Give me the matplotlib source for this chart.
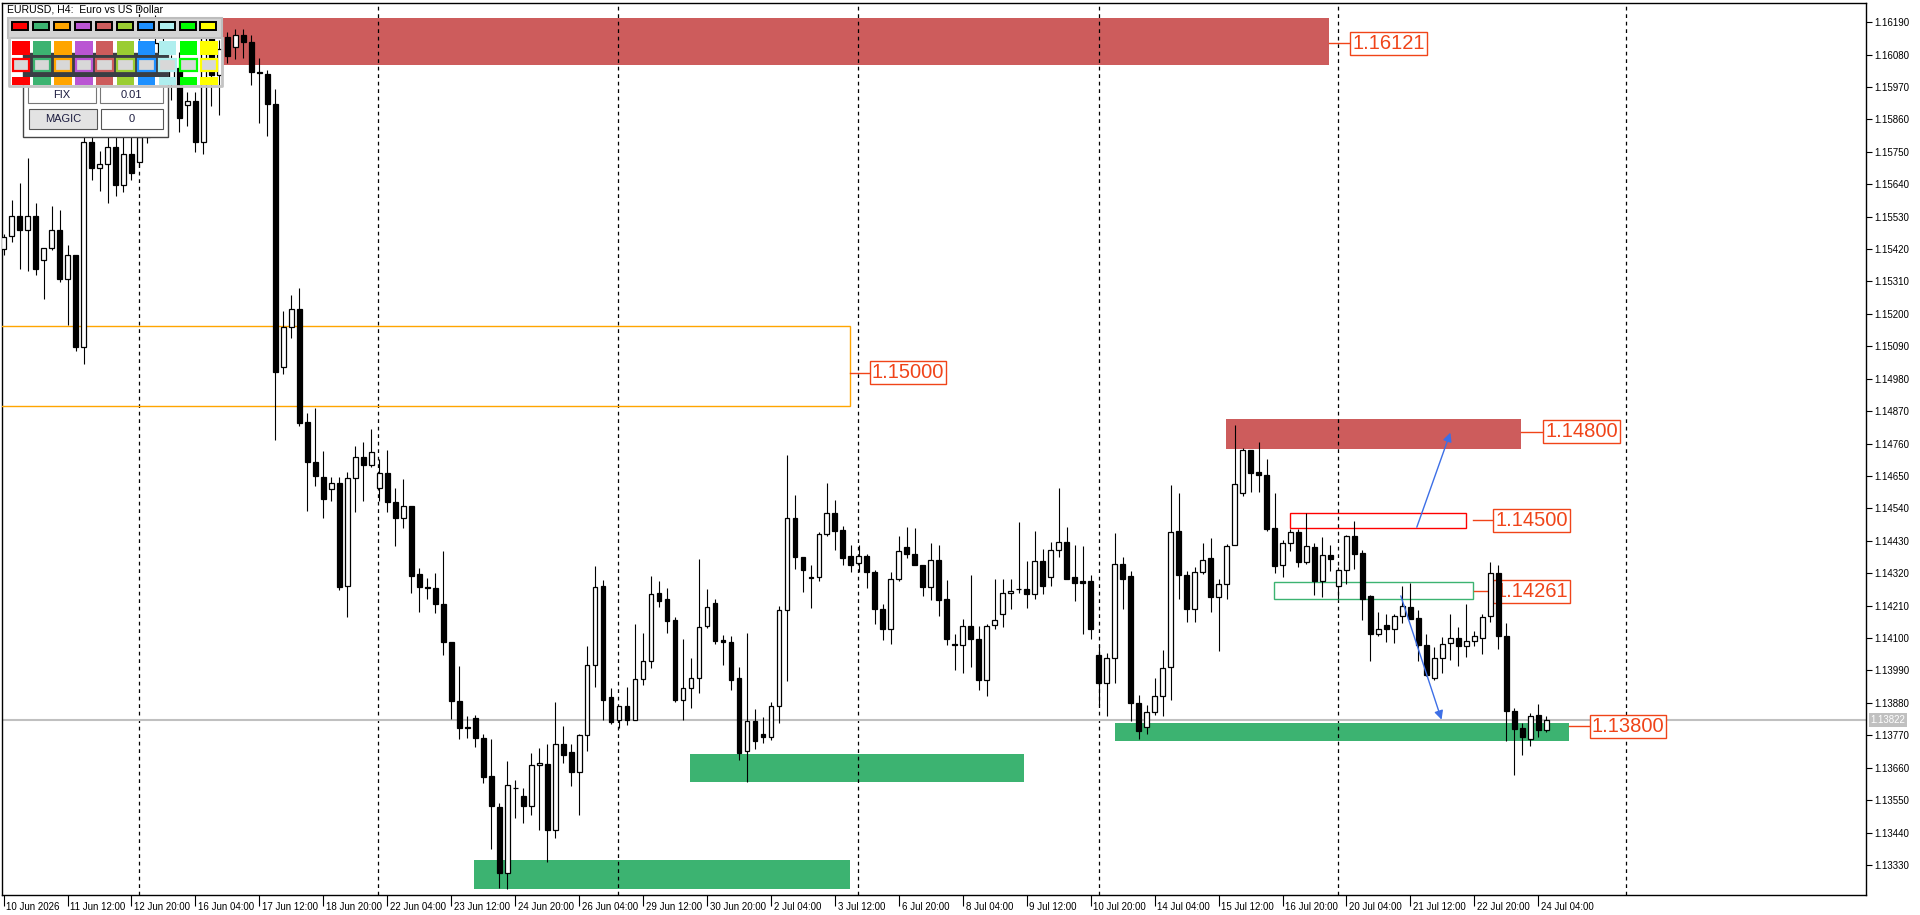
import numpy as np
import matplotlib
matplotlib.use('Agg')
import matplotlib.pyplot as plt
import matplotlib.transforms as mtransforms
from matplotlib.patches import Rectangle

plt.rcParams['font.family'] = ['Liberation Sans', 'DejaVu Sans']

# EURUSD H4 candles, one row per bar (index 0 = 10 Jun 04:00)
opens = [
    1.15421, 1.15464, 1.15533, 1.15484, 1.15533, 1.15382, 1.15425, 1.15484, 1.15318, 1.15400,
    1.15089, 1.15785, 1.15695, 1.15708, 1.15767, 1.15636, 1.15742, 1.15714, 1.15800, 1.15950,
    1.16120, 1.15990, 1.16035, 1.15908, 1.15923, 1.15785, 1.16158, 1.16011, 1.16138, 1.16105,
    1.16148, 1.16122, 1.16021, 1.16015, 1.15913, 1.15021, 1.15156, 1.15216, 1.14834, 1.14697,
    1.14648, 1.14605, 1.14625, 1.14277, 1.14644, 1.14713, 1.14687, 1.14609, 1.14660, 1.14560,
    1.14507, 1.14547, 1.14316, 1.14273, 1.14269, 1.14215, 1.14088, 1.13887, 1.13799, 1.13830,
    1.13762, 1.13633, 1.13527, 1.13301, 1.13592, 1.13564, 1.13531, 1.13668, 1.13672, 1.13450,
    1.13740, 1.13713, 1.13644, 1.13770, 1.14008, 1.14278, 1.13899, 1.13823, 1.13871, 1.13821,
    1.13962, 1.14022, 1.14252, 1.14234, 1.14161, 1.13891, 1.13931, 1.13965, 1.14141, 1.14220,
    1.14094, 1.14088, 1.13965, 1.13715, 1.13817, 1.13774, 1.13763, 1.13869, 1.14194, 1.14509,
    1.14376, 1.14308, 1.14308, 1.14453, 1.14523, 1.14468, 1.14377, 1.14354, 1.14379, 1.14325,
    1.14200, 1.14130, 1.14300, 1.14408, 1.14385, 1.14349, 1.14274, 1.14366, 1.14234, 1.14081,
    1.14075, 1.14141, 1.14098, 1.13956, 1.14143, 1.14181, 1.14252, 1.14266, 1.14268, 1.14249,
    1.14362, 1.14308, 1.14400, 1.14425, 1.14306, 1.14294, 1.14294, 1.14044, 1.13948, 1.14031,
    1.14351, 1.14311, 1.13878, 1.13798, 1.13848, 1.13905, 1.14001, 1.14464, 1.14313, 1.14197,
    1.14325, 1.14370, 1.14240, 1.14285, 1.14417, 1.14592, 1.14737, 1.14663, 1.14652, 1.14473,
    1.14348, 1.14422, 1.14461, 1.14359, 1.14410, 1.14292, 1.14383, 1.14277, 1.14332, 1.14446,
    1.14387, 1.14241, 1.14113, 1.14143, 1.14130, 1.14175, 1.14206, 1.14169, 1.14076, 1.13965,
    1.14031, 1.14084, 1.14099, 1.14073, 1.14090, 1.14099, 1.14175, 1.14320, 1.14107, 1.13852,
    1.13795, 1.13757, 1.13838, 1.13787,
]
highs = [
    1.15470, 1.15587, 1.15644, 1.15728, 1.15576, 1.15425, 1.15566, 1.15552, 1.15435, 1.15400,
    1.15830, 1.15850, 1.15753, 1.15850, 1.15830, 1.15810, 1.15800, 1.15840, 1.15990, 1.16214,
    1.16150, 1.16080, 1.16089, 1.15953, 1.15953, 1.16187, 1.16187, 1.16128, 1.16158, 1.16167,
    1.16167, 1.16148, 1.16070, 1.16027, 1.15962, 1.15211, 1.15265, 1.15289, 1.14863, 1.14879,
    1.14736, 1.14648, 1.14648, 1.14664, 1.14752, 1.14765, 1.14808, 1.14707, 1.14738, 1.14609,
    1.14640, 1.14547, 1.14336, 1.14303, 1.14322, 1.14394, 1.14088, 1.14004, 1.13834, 1.13838,
    1.13775, 1.13756, 1.13541, 1.13684, 1.13619, 1.13590, 1.13710, 1.13727, 1.13740, 1.13882,
    1.13800, 1.13740, 1.13774, 1.14073, 1.14343, 1.14298, 1.13931, 1.13871, 1.13933, 1.14149,
    1.14118, 1.14309, 1.14292, 1.14271, 1.14173, 1.14096, 1.14033, 1.14368, 1.14268, 1.14232,
    1.14109, 1.14107, 1.14001, 1.14118, 1.13859, 1.13832, 1.13882, 1.14209, 1.14720, 1.14584,
    1.14376, 1.14349, 1.14459, 1.14626, 1.14570, 1.14479, 1.14417, 1.14417, 1.14385, 1.14331,
    1.14215, 1.14323, 1.14447, 1.14476, 1.14472, 1.14349, 1.14421, 1.14417, 1.14298, 1.14113,
    1.14166, 1.14315, 1.14141, 1.14149, 1.14300, 1.14300, 1.14300, 1.14493, 1.14360, 1.14462,
    1.14402, 1.14425, 1.14609, 1.14476, 1.14416, 1.14411, 1.14314, 1.14079, 1.14050, 1.14455,
    1.14374, 1.14328, 1.13908, 1.13874, 1.13965, 1.14061, 1.14618, 1.14591, 1.14328, 1.14340,
    1.14421, 1.14438, 1.14300, 1.14419, 1.14824, 1.14745, 1.14737, 1.14765, 1.14706, 1.14591,
    1.14433, 1.14470, 1.14470, 1.14523, 1.14421, 1.14444, 1.14417, 1.14340, 1.14450, 1.14496,
    1.14400, 1.14247, 1.14190, 1.14181, 1.14181, 1.14275, 1.14288, 1.14195, 1.14113, 1.14069,
    1.14104, 1.14183, 1.14138, 1.14217, 1.14124, 1.14183, 1.14357, 1.14347, 1.14152, 1.13863,
    1.13810, 1.13846, 1.13876, 1.13837,
]
lows = [
    1.15400, 1.15445, 1.15353, 1.15347, 1.15332, 1.15250, 1.15416, 1.15308, 1.15162, 1.15074,
    1.15029, 1.15656, 1.15617, 1.15576, 1.15601, 1.15615, 1.15654, 1.15699, 1.15780, 1.15920,
    1.15960, 1.15926, 1.15816, 1.15836, 1.15751, 1.15742, 1.15904, 1.15874, 1.16050, 1.16066,
    1.16070, 1.15978, 1.15849, 1.15804, 1.14771, 1.14996, 1.15119, 1.14820, 1.14531, 1.14615,
    1.14507, 1.14566, 1.14264, 1.14170, 1.14527, 1.14566, 1.14679, 1.14566, 1.14527, 1.14414,
    1.14472, 1.14254, 1.14189, 1.14234, 1.14185, 1.14043, 1.13824, 1.13756, 1.13760, 1.13730,
    1.13609, 1.13385, 1.13252, 1.13248, 1.13488, 1.13473, 1.13500, 1.13450, 1.13340, 1.13420,
    1.13676, 1.13598, 1.13500, 1.13715, 1.13933, 1.13823, 1.13808, 1.13795, 1.13804, 1.13821,
    1.13939, 1.13999, 1.14206, 1.14116, 1.13882, 1.13823, 1.13861, 1.13912, 1.14135, 1.14079,
    1.14010, 1.13925, 1.13687, 1.13613, 1.13723, 1.13744, 1.13755, 1.13812, 1.13954, 1.14334,
    1.14257, 1.14201, 1.14294, 1.14447, 1.14399, 1.14347, 1.14323, 1.14323, 1.14271, 1.14147,
    1.14093, 1.14079, 1.14292, 1.14370, 1.14348, 1.14243, 1.14229, 1.14175, 1.14075, 1.13993,
    1.13980, 1.14002, 1.13925, 1.13905, 1.14132, 1.14139, 1.14198, 1.14252, 1.14203, 1.14232,
    1.14249, 1.14277, 1.14374, 1.14302, 1.14226, 1.14113, 1.14098, 1.13874, 1.13836, 1.13948,
    1.14198, 1.13817, 1.13757, 1.13775, 1.13840, 1.13837, 1.13891, 1.14232, 1.14155, 1.14155,
    1.14317, 1.14190, 1.14056, 1.14232, 1.14417, 1.14583, 1.14595, 1.14597, 1.14462, 1.14320,
    1.14308, 1.14394, 1.14342, 1.14351, 1.14246, 1.14238, 1.14328, 1.14232, 1.14283, 1.14334,
    1.14161, 1.14022, 1.14107, 1.14085, 1.14083, 1.14152, 1.14163, 1.14022, 1.13971, 1.13959,
    1.13982, 1.14027, 1.14005, 1.14037, 1.14073, 1.14045, 1.14155, 1.14064, 1.13752, 1.13636,
    1.13704, 1.13732, 1.13764, 1.13780,
]
closes = [
    1.15460, 1.15533, 1.15484, 1.15533, 1.15353, 1.15425, 1.15484, 1.15318, 1.15400, 1.15089,
    1.15785, 1.15695, 1.15708, 1.15767, 1.15636, 1.15744, 1.15679, 1.15800, 1.15950, 1.16120,
    1.16000, 1.16035, 1.15865, 1.15923, 1.15785, 1.16158, 1.16011, 1.16100, 1.16074, 1.16148,
    1.16122, 1.16021, 1.16017, 1.15913, 1.15002, 1.15156, 1.15216, 1.14830, 1.14697, 1.14650,
    1.14572, 1.14625, 1.14273, 1.14644, 1.14713, 1.14687, 1.14732, 1.14660, 1.14560, 1.14507,
    1.14547, 1.14312, 1.14273, 1.14269, 1.14215, 1.14088, 1.13887, 1.13795, 1.13795, 1.13760,
    1.13629, 1.13531, 1.13301, 1.13600, 1.13590, 1.13531, 1.13668, 1.13676, 1.13450, 1.13740,
    1.13704, 1.13647, 1.13772, 1.14008, 1.14274, 1.13891, 1.13814, 1.13871, 1.13821, 1.13962,
    1.14022, 1.14251, 1.14226, 1.14158, 1.13889, 1.13931, 1.13965, 1.14138, 1.14206, 1.14090,
    1.14085, 1.13959, 1.13710, 1.13817, 1.13752, 1.13763, 1.13869, 1.14194, 1.14509, 1.14376,
    1.14330, 1.14303, 1.14453, 1.14525, 1.14464, 1.14371, 1.14349, 1.14379, 1.14325, 1.14198,
    1.14130, 1.14300, 1.14396, 1.14385, 1.14348, 1.14274, 1.14366, 1.14228, 1.14098, 1.14075,
    1.14141, 1.14098, 1.13959, 1.14141, 1.14161, 1.14254, 1.14260, 1.14266, 1.14249, 1.14362,
    1.14277, 1.14400, 1.14425, 1.14302, 1.14286, 1.14286, 1.14130, 1.13948, 1.14031, 1.14351,
    1.14300, 1.13878, 1.13783, 1.13848, 1.13905, 1.13997, 1.14461, 1.14313, 1.14197, 1.14325,
    1.14366, 1.14240, 1.14285, 1.14413, 1.14623, 1.14737, 1.14661, 1.14652, 1.14470, 1.14343,
    1.14422, 1.14461, 1.14357, 1.14413, 1.14292, 1.14382, 1.14368, 1.14332, 1.14446, 1.14385,
    1.14234, 1.14113, 1.14130, 1.14130, 1.14175, 1.14209, 1.14164, 1.14075, 1.13973, 1.14031,
    1.14079, 1.14099, 1.14073, 1.14090, 1.14107, 1.14172, 1.14320, 1.14107, 1.13852, 1.13792,
    1.13763, 1.13834, 1.13787, 1.13821,
]

current_price = 1.13822

# time axis labels, every 8 bars
x_tick_idx = list(range(0, 193, 8))
x_tick_labels = ['10 Jun 2026', '11 Jun 12:00', '12 Jun 20:00', '16 Jun 04:00', '17 Jun 12:00',
                 '18 Jun 20:00', '22 Jun 04:00', '23 Jun 12:00', '24 Jun 20:00', '26 Jun 04:00',
                 '29 Jun 12:00', '30 Jun 20:00', '2 Jul 04:00', '3 Jul 12:00', '6 Jul 20:00',
                 '8 Jul 04:00', '9 Jul 12:00', '10 Jul 20:00', '14 Jul 04:00', '15 Jul 12:00',
                 '16 Jul 20:00', '20 Jul 04:00', '21 Jul 12:00', '22 Jul 20:00', '24 Jul 04:00']
y_ticks = [1.13330 + 0.0011 * k for k in range(27)]

# vertical separators (bar positions)
grid_idx = [16.9, 46.9, 76.9, 106.9, 137.0, 167.0, 203.0]

# zones: (left bar, right bar, low, high)
filled_zones = [
    (27.4, 165.8, 1.16044, 1.16203, '#CD5C5C'),
    (152.9, 189.8, 1.14743, 1.14843, '#CD5C5C'),
    (58.8, 105.9, 1.13247, 1.13347, '#3CB371'),
    (85.9, 127.7, 1.13610, 1.13706, '#3CB371'),
    (139.0, 195.8, 1.13752, 1.13812, '#3CB371'),
]
outline_zones = [
    (-5.0, 105.9, 1.14889, 1.15160, '#FFA500'),
    (160.9, 182.9, 1.14475, 1.14526, '#FF0000'),
    (158.9, 183.8, 1.14232, 1.14291, '#3CB371'),
]
# price labels: (line start bar, label bar, price, text)
level_labels = [
    (165.8, 168.7, 1.16119, '1.16121'),
    (105.9, 108.6, 1.15000, '1.15000'),
    (189.8, 192.9, 1.14800, '1.14800'),
    (183.8, 186.6, 1.14500, '1.14500'),
    (183.9, 186.6, 1.14259, '1.14261'),
    (195.8, 198.7, 1.13800, '1.13800'),
]
# arrows: (start bar, start price, end bar, end price)
arrows = [
    (176.8, 1.14476, 181.0, 1.14797),
    (174.8, 1.14243, 179.9, 1.13823),
]

panel_colors = ['#FF0000', '#3CB371', '#FFA500', '#BA55D3', '#CD5C5C',
                '#9ACD32', '#1E90FF', '#AFEEEE', '#00FF00', '#FFFF00']

LABEL_RED = '#F04419'


def draw_candles(ax):
    o = np.array(opens)
    h = np.array(highs)
    l = np.array(lows)
    c = np.array(closes)
    x = np.arange(len(o))
    ax.vlines(x, l, h, color='black', linewidth=0.8, zorder=4)
    bull = c >= o
    height = np.maximum(np.abs(c - o), 0.000015)
    bottom = np.minimum(o, c)
    ax.bar(x[bull], height[bull], 0.6, bottom=bottom[bull], facecolor='white',
           edgecolor='black', linewidth=0.9, zorder=5)
    ax.bar(x[~bull], height[~bull], 0.6, bottom=bottom[~bull], facecolor='black',
           edgecolor='black', linewidth=0.9, zorder=5)


def draw_objects(ax):
    for x0, x1, lo, hi, col in filled_zones:
        ax.add_patch(Rectangle((x0, lo), x1 - x0, hi - lo, facecolor=col, edgecolor='none', zorder=1))
    for x0, x1, lo, hi, col in outline_zones:
        ax.add_patch(Rectangle((x0, lo), x1 - x0, hi - lo, facecolor='none', edgecolor=col,
                               linewidth=1.0, zorder=3))
    for x0, x1, price, txt in level_labels:
        ax.plot([x0, x1], [price, price], color=LABEL_RED, linewidth=1.0, zorder=3)
        ax.text(x1, price, txt, ha='left', va='center', fontsize=14.5, color=LABEL_RED,
                bbox=dict(boxstyle='square,pad=0.1', facecolor='white', edgecolor=LABEL_RED, linewidth=1.0),
                zorder=3, clip_on=False)
    for x0, y0, x1, y1 in arrows:
        ax.annotate('', xy=(x1, y1), xytext=(x0, y0),
                    arrowprops=dict(arrowstyle='-|>', color='#3D6FE6', linewidth=1.0,
                                    mutation_scale=13, shrinkA=0, shrinkB=0), zorder=6)


def draw_panel(fig):
    # trading panel in the top-left corner, drawn in pixel coordinates
    pax = fig.add_axes([0, 0, 1, 1], zorder=10)
    pax.set_xlim(0, 1920)
    pax.set_ylim(915, 0)
    pax.axis('off')
    pax.patch.set_alpha(0)
    pax.text(7, 9, 'EURUSD, H4:  Euro vs US Dollar', fontsize=7.6, va='center', ha='left', color='black')
    # lower box with FIX / MAGIC
    pax.add_patch(Rectangle((23, 53), 145, 84, facecolor='white', edgecolor='#444444', linewidth=1.0))
    pax.add_patch(Rectangle((28, 86), 68, 17, facecolor='white', edgecolor='#777777', linewidth=0.8))
    pax.add_patch(Rectangle((100, 86), 63, 17, facecolor='white', edgecolor='#777777', linewidth=0.8))
    pax.add_patch(Rectangle((29, 109), 68, 20, facecolor='#E3E3E3', edgecolor='#555555', linewidth=0.8))
    pax.add_patch(Rectangle((101, 109), 62, 20, facecolor='white', edgecolor='#555555', linewidth=0.8))
    pax.text(62, 94.5, 'FIX', fontsize=8, ha='center', va='center', color='#1C1C40')
    pax.text(131, 94.5, '0.01', fontsize=8, ha='center', va='center', color='#1C1C40')
    pax.text(63, 119, 'MAGIC', fontsize=8, ha='center', va='center', color='#1C1C40')
    pax.text(132, 119, '0', fontsize=8, ha='center', va='center', color='#1C1C40')
    # colour rows
    pax.add_patch(Rectangle((8, 18), 214, 20, facecolor='#D4D4D4', edgecolor='#BDBDBD', linewidth=1.5))
    pax.plot([9, 9, 222, 222], [38, 86, 86, 38], color='#C4C4C4', linewidth=2)
    pax.add_patch(Rectangle((23, 53), 145, 24, facecolor='#3A3E44', edgecolor='none'))
    for k, col in enumerate(panel_colors):
        x0 = 12.3 + 20.9 * k
        pax.add_patch(Rectangle((x0, 22), 16, 8, facecolor=col, edgecolor='black', linewidth=1.4))
        pax.add_patch(Rectangle((x0, 41), 17.5, 14, facecolor=col, edgecolor='none'))
        pax.add_patch(Rectangle((x0 + 0.5, 58.5), 16.5, 12, facecolor='#D8D8D8', edgecolor=col, linewidth=1.6))
        pax.add_patch(Rectangle((x0, 77), 17.5, 8, facecolor=col, edgecolor='none'))


fig = plt.figure(figsize=(19.2, 9.15), dpi=100)
ax = fig.add_axes([2 / 1920, 20 / 915, 1864 / 1920, 892 / 915])
ax.set_facecolor('white')

draw_candles(ax)
draw_objects(ax)

for gx in grid_idx:
    ax.axvline(gx, color='black', linewidth=0.9, linestyle=(0, (3, 3)), zorder=2)
ax.axhline(current_price, color='#C0C0C0', linewidth=1.5, zorder=2)

ax.set_xlim(-0.2, 233.0)
ax.set_ylim(1.13228, 1.16255)

# right price scale
ax.yaxis.tick_right()
ax.set_yticks(y_ticks)
ax.set_yticklabels(['%.5f' % v for v in y_ticks])
ax.tick_params(axis='y', length=4, width=0.8, pad=2, labelsize=7, colors='black')

# time scale with labels to the right of each tick
ax.set_xticks(x_tick_idx)
ax.set_xticklabels(x_tick_labels)
ax.tick_params(axis='x', length=8, width=0.8, pad=-3, labelsize=7)
shift = mtransforms.ScaledTranslation(2 / 72, 0, fig.dpi_scale_trans)
for lbl in ax.get_xticklabels():
    lbl.set_horizontalalignment('left')
    lbl.set_transform(lbl.get_transform() + shift)

for sp in ax.spines.values():
    sp.set_color('black')
    sp.set_linewidth(1.0)

# current price tag on the scale
tag_trans = mtransforms.blended_transform_factory(ax.transAxes, ax.transData)
ax.text(1.0025, current_price, '1.13822', transform=tag_trans, ha='left', va='center',
        fontsize=7, color='white', clip_on=False, zorder=7,
        bbox=dict(boxstyle='square,pad=0.2', facecolor='#C0C0C0', edgecolor='none'))

draw_panel(fig)

fig.savefig('out.png', dpi=100, facecolor='white')
